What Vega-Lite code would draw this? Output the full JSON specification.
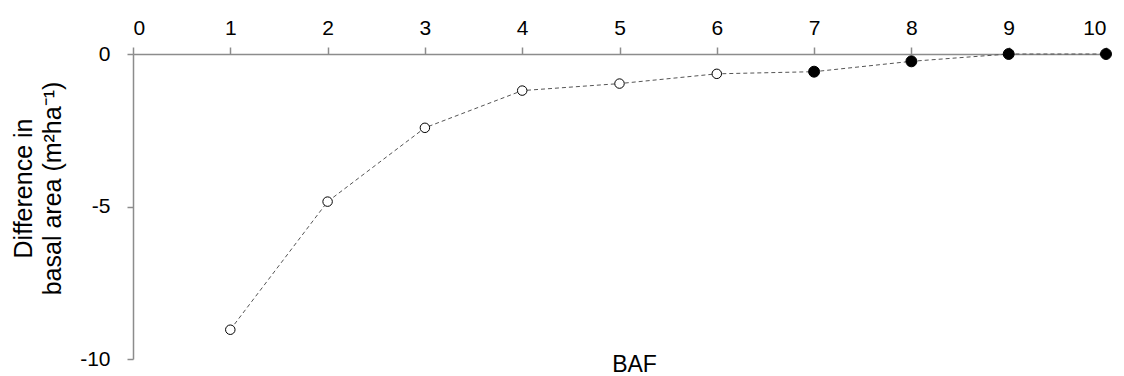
{
  "$schema": "https://vega.github.io/schema/vega-lite/v6.json",
  "autosize": {"type": "none"},
  "padding": {"left": 133, "top": 54, "right": 18, "bottom": 17},
  "width": 973,
  "height": 305,
  "background": "white",
  "config": {
    "view": {"stroke": null},
    "font": "Liberation Sans",
    "axis": {
      "grid": false,
      "domainColor": "#8c8c8c",
      "tickColor": "#8c8c8c",
      "domainWidth": 1.5,
      "tickWidth": 1.5,
      "labelColor": "#000000",
      "titleColor": "#000000",
      "labelFont": "Liberation Sans",
      "titleFont": "Liberation Sans",
      "titleFontWeight": "normal"
    }
  },
  "data": {
    "values": [
      {"baf": 1, "diff": -9.04, "type": "open"},
      {"baf": 2, "diff": -4.84, "type": "open"},
      {"baf": 3, "diff": -2.42, "type": "open"},
      {"baf": 4, "diff": -1.2, "type": "open"},
      {"baf": 5, "diff": -0.97, "type": "open"},
      {"baf": 6, "diff": -0.65, "type": "open"},
      {"baf": 7, "diff": -0.58, "type": "filled"},
      {"baf": 8, "diff": -0.24, "type": "filled"},
      {"baf": 9, "diff": 0, "type": "filled"},
      {"baf": 10, "diff": 0, "type": "filled"}
    ]
  },
  "encoding": {
    "x": {
      "field": "baf",
      "type": "quantitative",
      "scale": {"domain": [0, 10], "nice": false, "zero": false},
      "axis": {
        "orient": "top",
        "values": [0, 1, 2, 3, 4, 5, 6, 7, 8, 9, 10],
        "labelExpr": "'' + datum.value",
        "labelFontSize": 21,
        "tickSize": 7,
        "labelPadding": 9,
        "title": "BAF",
        "titleFontSize": 23,
        "titleX": 501,
        "titleY": 317,
        "titleAlign": "center",
        "titleBaseline": "alphabetic",
        "titleAnchor": "middle"
      }
    },
    "y": {
      "field": "diff",
      "type": "quantitative",
      "scale": {"domain": [-10, 0], "nice": false},
      "axis": {
        "values": [0, -5, -10],
        "labelExpr": "'' + datum.value",
        "labelFontSize": 21,
        "tickSize": 6,
        "labelPadding": 17,
        "title": ["Difference in", "basal area (m²ha⁻¹)"],
        "titleFontSize": 25,
        "titleX": -110,
        "titleY": 134,
        "titleAngle": -90,
        "titleAlign": "center",
        "titleBaseline": "middle",
        "titleLineHeight": 29
      }
    }
  },
  "layer": [
    {
      "mark": {"type": "line", "color": "#555555", "strokeWidth": 1, "strokeDash": [4, 3]}
    },
    {
      "mark": {"type": "point", "filled": false, "stroke": "#000000", "strokeWidth": 1, "opacity": 1},
      "encoding": {
        "fill": {
          "field": "type",
          "type": "nominal",
          "scale": {"domain": ["open", "filled"], "range": ["#ffffff", "#000000"]},
          "legend": null
        },
        "size": {
          "field": "type",
          "type": "nominal",
          "scale": {"domain": ["open", "filled"], "range": [90, 120]},
          "legend": null
        }
      }
    }
  ]
}
